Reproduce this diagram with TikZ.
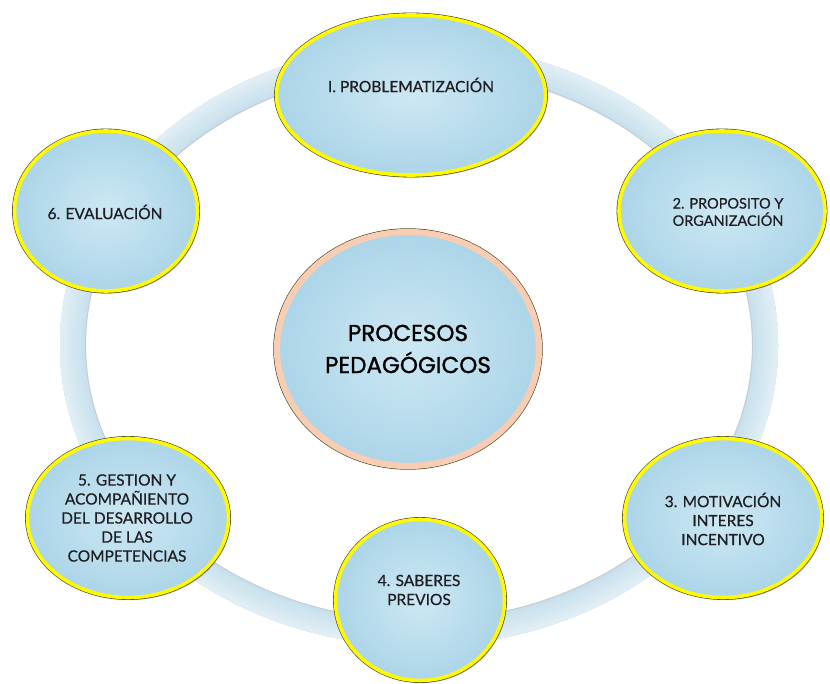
\documentclass[tikz,border=0pt]{standalone}
\usepackage{fontspec}
\setmainfont{Lato}
\newfontfamily\stagefont[FakeBold=0.6]{Lato}
\newfontfamily\hubfont[FakeBold=1.2]{Poppins}
\usetikzlibrary{shapes.geometric,shadows}
\definecolor{ringc}{RGB}{200,224,236}
\definecolor{ringl}{RGB}{226,239,246}
\definecolor{fillin}{RGB}{205,232,244}
\definecolor{fillout}{RGB}{172,213,232}
\definecolor{yell}{RGB}{255,250,0}
\definecolor{peach}{RGB}{248,205,180}
\definecolor{edge}{RGB}{70,65,30}
\definecolor{txt}{RGB}{30,30,35}
\tikzset{
  stage/.style={ellipse, inner sep=0pt,
    drop shadow={shadow xshift=2pt, shadow yshift=-2.5pt, opacity=0.22, fill=black},
    preaction={draw=edge, line width=4.8pt},
    shade, inner color=fillin, outer color=fillout,
    draw=yell, line width=3.6pt},
  hub/.style={ellipse, inner sep=0pt,
    drop shadow={shadow xshift=2pt, shadow yshift=-2.5pt, opacity=0.22, fill=black},
    preaction={draw=edge, line width=7.4pt},
    shade, inner color=fillin, outer color=fillout,
    draw=peach, line width=6.2pt},
  stagetext/.style={font=\stagefont\fontsize{15.5}{19}\selectfont, text=txt, align=center, inner sep=0pt},
}
\begin{document}
\begin{tikzpicture}[x=1pt, y=-1pt]
\useasboundingbox (0,0) rectangle (830,684);
\fill[white] (0,0) rectangle (830,684);
% ring with soft gradient from inner to outer edge
\foreach \k in {0,...,12}{
  \pgfmathsetmacro{\pc}{100-8*\k}
  \draw[ringc!\pc!ringl, line width={(26-2*\k)*1pt}] (419,345) ellipse [x radius={(346+\k)*1pt}, y radius={(288+\k)*1pt}];
}
\draw[black!25, opacity=0.6, line width=0.9pt] (419,345) ellipse [x radius=333.5pt, y radius=275.5pt];
% centre
\node[hub, minimum width=262pt, minimum height=234pt, align=center,
      font=\hubfont\fontsize{23}{32}\selectfont, text=black] (hub) at (408,349)
      {PROCESOS\\PEDAGÓGICOS};
% stages
\node[stage, minimum width=269pt, minimum height=160pt] (e1) at (411,95) {};
\node[stage, minimum width=206pt, minimum height=160pt] (e2) at (722,211) {};
\node[stage, minimum width=197pt, minimum height=159pt] (e3) at (723,518) {};
\node[stage, minimum width=169pt, minimum height=161pt] (e4) at (420,600) {};
\node[stage, minimum width=201pt, minimum height=159pt] (e5) at (128,518) {};
\node[stage, minimum width=183pt, minimum height=160pt] (e6) at (106,211) {};
% texts
\node[stagetext] (t1) at (411,85) {I. PROBLEMATIZACIÓN};
\node[stagetext, font=\stagefont\fontsize{14.5}{17.3}\selectfont] (t2) at (728,212) {2. PROPOSITO Y\\ORGANIZACIÓN};
\node[stagetext] (t3) at (723,519) {3. MOTIVACIÓN\\INTERES\\INCENTIVO};
\node[stagetext] (t4) at (419,590) {4. SABERES\\PREVIOS};
\node[stagetext] (t5) at (127,518) {5. GESTION Y\\ACOMPAÑIENTO\\DEL DESARROLLO\\DE LAS\\COMPETENCIAS};
\node[stagetext] (t6) at (105,212) {6. EVALUACIÓN};
\end{tikzpicture}
\end{document}
